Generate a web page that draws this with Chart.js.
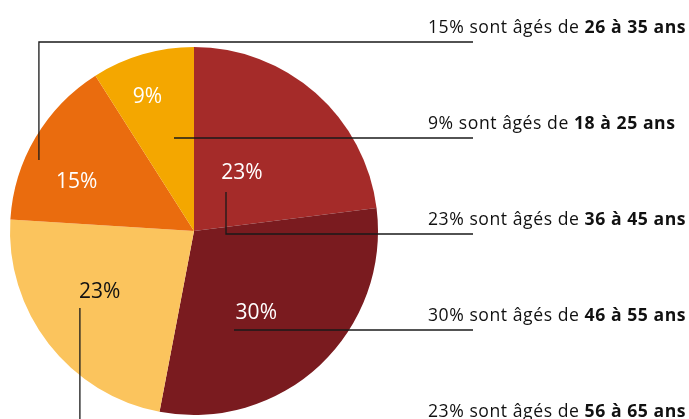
<!DOCTYPE html>
<html lang="fr">
<head>
<meta charset="utf-8">
<script src="https://cdn.jsdelivr.net/npm/chart.js@4"></script>
<style>
  html, body { margin: 0; padding: 0; background: #fff; }
  #wrap { width: 689px; height: 419px; position: relative; }
</style>
</head>
<body>
<div id="wrap"><canvas id="ageChart"></canvas></div>
<script>
// Data, in pie order (clockwise from 12 o'clock)
const ageGroups = ["36 à 45 ans", "46 à 55 ans", "56 à 65 ans", "26 à 35 ans", "18 à 25 ans"];
const shares = [23, 30, 23, 15, 9];
// order of the text rows on the right (indexes into ageGroups)
const rowOrder = [3, 4, 0, 1, 2];

const sliceColors = ["#A52B29", "#7A1B1F", "#FBC45D", "#EA6C0E", "#F4A700"];
const innerLabelColors = ["#fff", "#fff", "#111", "#fff", "#fff"];

// label placement per slice: angle offset from slice middle (deg), radius fraction
const innerLabelPos = [
    { da: -2, r: 0.41 },
    { da: 6, r: 0.56 },
    { da: 5, r: 0.61 },
    { da: -8, r: 0.69 },
    { da: -3, r: 0.77 }
];
// leader anchors: absolute angle (deg from top, clockwise), radius fraction, route type
const leaderAnchors = [
    { a: 39.4, r: 0.274, type: "vh" },
    { a: 158, r: 0.58, type: "h" },
    { a: 236, r: 0.748, type: "vh" },
    { a: 294.6, r: 0.927, type: "vh" },
    { a: 347.6, r: 0.507, type: "h" }
];

const textFont = "'Open Sans', 'Noto Sans', sans-serif";

function polar(cx, cy, deg, rad) {
    const t = (deg - 90) * Math.PI / 180;
    return { x: cx + Math.cos(t) * rad, y: cy + Math.sin(t) * rad };
}

const labelsPlugin = {
    id: "ageLabels",
    afterDraw(chart) {
        const ctx = chart.ctx;
        const meta = chart.getDatasetMeta(0);
        const first = meta.data[0];
        const cx = first.x, cy = first.y, R = first.outerRadius;

        const rowTop = 42, rowGap = 96, lineEnd = 473, textX = 428;

        // leader lines
        ctx.save();
        ctx.strokeStyle = "#1a1a1a";
        ctx.lineWidth = 1.3;
        rowOrder.forEach((idx, row) => {
            const rowY = rowTop + row * rowGap;
            const an = leaderAnchors[idx];
            const p = polar(cx, cy, an.a, an.r * R);
            ctx.beginPath();
            if (an.type === "h") {
                ctx.moveTo(p.x, rowY);
            } else {
                ctx.moveTo(p.x, p.y);
                ctx.lineTo(p.x, rowY);
            }
            ctx.lineTo(lineEnd, rowY);
            ctx.stroke();
        });
        ctx.restore();

        // slice percentages
        ctx.save();
        ctx.font = "21px " + textFont;
        ctx.textAlign = "center";
        ctx.textBaseline = "middle";
        meta.data.forEach((arc, i) => {
            const mid = ((arc.startAngle + arc.endAngle) / 2) * 180 / Math.PI + 90;
            const pos = innerLabelPos[i];
            const p = polar(cx, cy, mid + pos.da, pos.r * R);
            ctx.fillStyle = innerLabelColors[i];
            ctx.fillText(shares[i] + "%", p.x, p.y);
        });
        ctx.restore();

        // right hand text rows
        ctx.save();
        ctx.textBaseline = "alphabetic";
        ctx.textAlign = "left";
        ctx.fillStyle = "#111";
        ctx.letterSpacing = "0.55px";
        rowOrder.forEach((idx, row) => {
            const y = rowTop + row * rowGap - 9;
            const part1 = shares[idx] + "% sont âgés de ";
            ctx.font = "17.6px " + textFont;
            ctx.fillText(part1, textX, y);
            const w = ctx.measureText(part1).width;
            ctx.font = "bold 17.6px " + textFont;
            ctx.fillText(ageGroups[idx], textX + w, y);
        });
        ctx.restore();
    }
};

new Chart(document.getElementById("ageChart"), {
    type: "pie",
    data: {
        labels: ageGroups,
        datasets: [{
            data: shares,
            backgroundColor: sliceColors,
            borderWidth: 0
        }]
    },
    options: {
        responsive: true,
        maintainAspectRatio: false,
        animation: false,
        layout: { padding: { top: 47, bottom: 4, left: 10, right: 311 } },
        plugins: {
            legend: { display: false },
            tooltip: { enabled: false }
        }
    },
    plugins: [labelsPlugin]
});
</script>
</body>
</html>
